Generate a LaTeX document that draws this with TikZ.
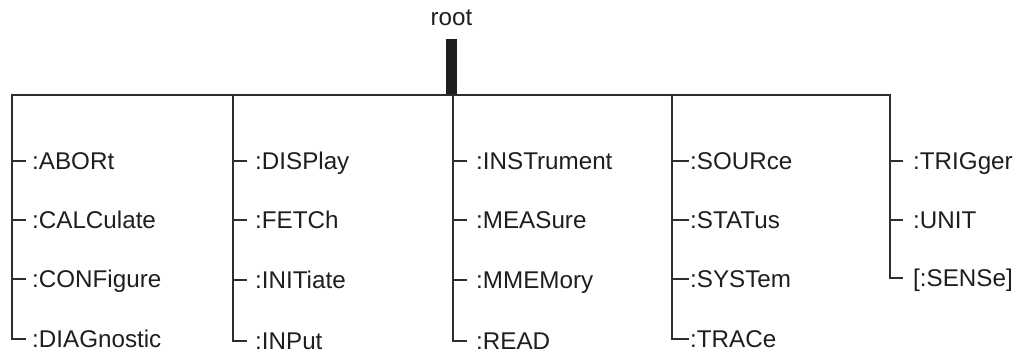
\documentclass[tikz,border=0pt]{standalone}
\usepackage{fontspec}
\setmainfont{Liberation Sans}
\definecolor{ink}{HTML}{1E1E1E}
\definecolor{wire}{HTML}{2E2E2E}
\begin{document}
\begin{tikzpicture}[x=1pt,y=-1pt,
  item/.style={anchor=west, inner sep=0pt, text height=17.2pt, text depth=0pt,
    font=\fontsize{24.2}{28}\selectfont, text=ink},
  trunk/.style={line width=2.2pt, draw=wire, line join=miter, line cap=rect}]
\useasboundingbox (0,0) rectangle (1017,353);
% root
\node[item, anchor=center] (root) at (451.5,17) {root};
\node[draw=ink, fill=ink, inner sep=0pt, minimum width=10pt, minimum height=56pt] (bar) at (451.5,67) {};
% coordinates on the bus
\coordinate (h1) at (12,95);
\coordinate (h2) at (233,95);
\coordinate (h3) at (453,95);
\coordinate (h4) at (672,95);
\coordinate (h5) at (890,95);
% column 1
\node[item] (a1) at (32,161) {:ABORt};
\node[item] (a2) at (32,220) {:CALCulate};
\node[item] (a3) at (32,279) {:CONFigure};
\node[item] (a4) at (32,339) {:DIAGnostic};
% column 2
\node[item] (b1) at (255,161) {:DISPlay};
\node[item] (b2) at (255,220) {:FETCh};
\node[item] (b3) at (255,280) {:INITiate};
\node[item] (b4) at (255,341) {:INPut};
% column 3
\node[item] (c1) at (476,161) {:INSTrument};
\node[item] (c2) at (476,220) {:MEASure};
\node[item] (c3) at (476,280) {:MMEMory};
\node[item] (c4) at (476,341) {:READ};
% column 4
\node[item] (d1) at (690,161) {:SOURce};
\node[item] (d2) at (690,220) {:STATus};
\node[item] (d3) at (690,279) {:SYSTem};
\node[item] (d4) at (690,339) {:TRACe};
% column 5
\node[item] (e1) at (913,161) {:TRIGger};
\node[item] (e2) at (913,220) {:UNIT};
\node[item] (e3) at (913,278) {[:SENSe]};
% bus and outer columns
\draw[trunk] ([xshift=-7pt]a4.west) -| (h1) -- (h5) |- ([xshift=-11pt]e3.west);
% column 1 ticks
\foreach \n in {a1,a2,a3}
  \draw[trunk] (h1 |- \n.west) -- ([xshift=-7pt]\n.west);
% column 2
\draw[trunk] (h2) |- ([xshift=-9pt]b4.west);
\foreach \n in {b1,b2,b3}
  \draw[trunk] (h2 |- \n.west) -- ([xshift=-9pt]\n.west);
% column 3
\draw[trunk] (h3) |- ([xshift=-10pt]c4.west);
\foreach \n in {c1,c2,c3}
  \draw[trunk] (h3 |- \n.west) -- ([xshift=-10pt]\n.west);
% column 4
\draw[trunk] (h4) |- ([xshift=-2pt]d4.west);
\foreach \n in {d1,d2,d3}
  \draw[trunk] (h4 |- \n.west) -- ([xshift=-2pt]\n.west);
% column 5 ticks
\foreach \n in {e1,e2}
  \draw[trunk] (h5 |- \n.west) -- ([xshift=-11pt]\n.west);
\end{tikzpicture}
\end{document}
